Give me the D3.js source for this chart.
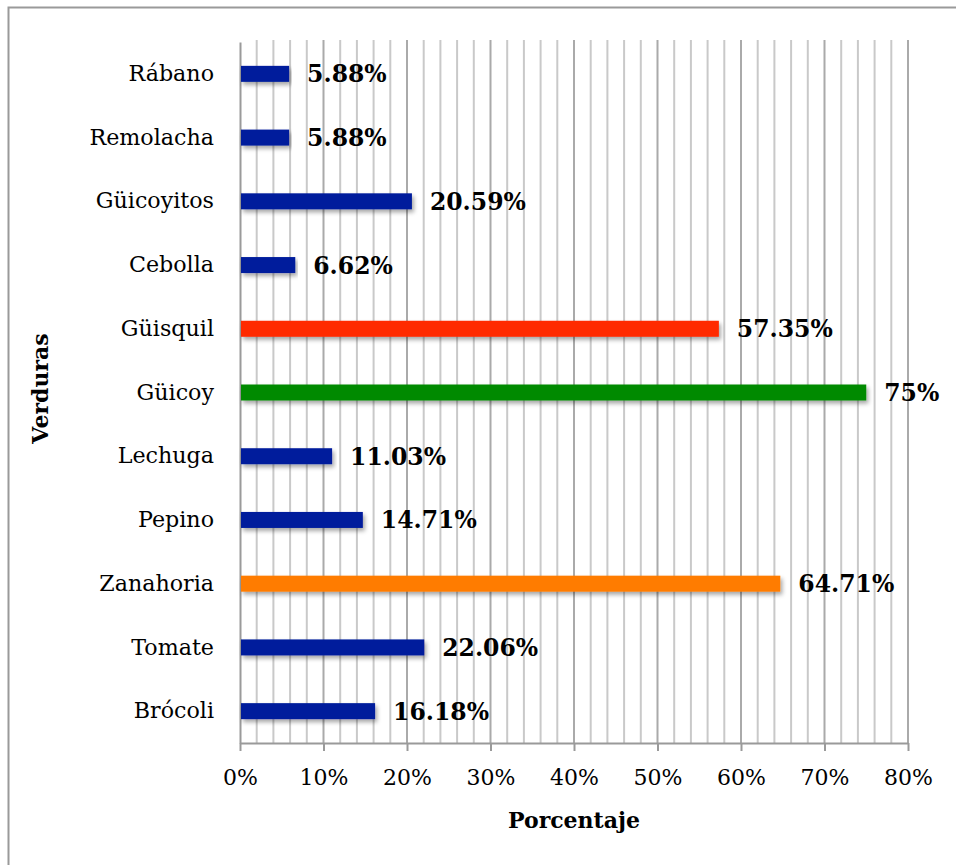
<!DOCTYPE html>
<html>
<head>
<meta charset="utf-8">
<script src="https://cdn.jsdelivr.net/npm/d3@7/dist/d3.min.js"></script>
<style>
  html, body { margin: 0; padding: 0; background: #fff; }
  svg { display: block; }
</style>
</head>
<body>
<script>
// Vegetables (top to bottom) and their percentages
const categories = ["Rábano", "Remolacha", "Güicoyitos", "Cebolla", "Güisquil", "Güicoy",
                    "Lechuga", "Pepino", "Zanahoria", "Tomate", "Brócoli"];
const values = [5.88, 5.88, 20.59, 6.62, 57.35, 75, 11.03, 14.71, 64.71, 22.06, 16.18];
const valueLabels = ["5.88%", "5.88%", "20.59%", "6.62%", "57.35%", "75%", "11.03%",
                     "14.71%", "64.71%", "22.06%", "16.18%"];
const barColors = ["#021c9c", "#021c9c", "#021c9c", "#021c9c", "#ff2a00", "#008a00",
                   "#021c9c", "#021c9c", "#ff7c00", "#021c9c", "#021c9c"];
const xTicks = [0, 10, 20, 30, 40, 50, 60, 70, 80];
const xTitle = "Porcentaje";
const yTitle = "Verduras";

const W = 956, H = 865;
const plotLeft = 240, plotRight = 908, plotTop = 42, plotBottom = 743;
const serif = "'DejaVu Serif', serif";

const svg = d3.select("body").append("svg").attr("width", W).attr("height", H);

const defs = svg.append("defs");
const f = defs.append("filter").attr("id", "shadow")
  .attr("x", "-5%").attr("y", "-50%").attr("width", "110%").attr("height", "250%");
f.append("feDropShadow").attr("dx", 2).attr("dy", 3).attr("stdDeviation", 2)
  .attr("flood-color", "#000").attr("flood-opacity", 0.35);

// Outer frame (left and top edges)
svg.append("rect").attr("x", 8.5).attr("y", 7.5).attr("width", W + 10).attr("height", H + 10)
  .attr("fill", "none").attr("stroke", "#9a9a9a").attr("stroke-width", 2);

const x = d3.scaleLinear().domain([0, 80]).range([plotLeft, plotRight]);
const y = d3.scaleBand().domain(categories).range([plotTop, plotBottom]);

// Vertical gridlines every 2%, darker at each 10%
const grid = d3.range(2, 81, 2);
svg.append("g").selectAll("line").data(grid).join("line")
  .attr("x1", d => x(d)).attr("x2", d => x(d))
  .attr("y1", plotTop - 2).attr("y2", plotBottom)
  .attr("stroke", d => d % 10 === 0 ? "#aaaaaa" : "#c9c9c9")
  .attr("stroke-width", 2);

// Axes
const xAxis = svg.append("g").attr("transform", `translate(0,${plotBottom})`)
  .call(d3.axisBottom(x).tickValues(xTicks).tickFormat(d => d + "%").tickSize(8).tickSizeOuter(0));
xAxis.select(".domain").attr("stroke", "#9a9a9a").attr("stroke-width", 2);
xAxis.selectAll(".tick line").attr("stroke", "#9a9a9a").attr("stroke-width", 2);
xAxis.selectAll(".tick text").attr("font-family", serif).attr("font-size", 22)
  .attr("fill", "#000").attr("dy", "1.42em");

const yAxis = svg.append("g").attr("transform", `translate(${plotLeft},0)`)
  .call(d3.axisLeft(y).tickSize(0).tickPadding(26));
yAxis.select(".domain").attr("stroke", "#9a9a9a").attr("stroke-width", 2);
yAxis.selectAll(".tick text").attr("font-family", serif).attr("font-size", 22.2)
  .attr("fill", "#000");

// Bars
const barH = 16;
svg.append("g").selectAll("rect").data(categories).join("rect")
  .attr("x", x(0) + 1)
  .attr("y", (d) => y(d) + y.bandwidth() / 2 - barH / 2)
  .attr("width", (d, i) => x(values[i]) - x(0) - 1)
  .attr("height", barH)
  .attr("fill", (d, i) => barColors[i])
  .attr("filter", "url(#shadow)");

// Value labels
svg.append("g").selectAll("text").data(categories).join("text")
  .attr("x", (d, i) => x(values[i]) + 18)
  .attr("y", d => y(d) + y.bandwidth() / 2)
  .attr("dy", "0.36em")
  .attr("font-family", serif).attr("font-weight", "bold").attr("font-size", 23.5)
  .attr("fill", "#000")
  .text((d, i) => valueLabels[i]);

// Axis titles
svg.append("text").attr("x", (plotLeft + plotRight) / 2).attr("y", 828)
  .attr("text-anchor", "middle").attr("font-family", serif).attr("font-weight", "bold")
  .attr("font-size", 22).text(xTitle);
svg.append("text").attr("transform", `translate(48,${(plotTop + plotBottom) / 2 - 4}) rotate(-90)`)
  .attr("text-anchor", "middle").attr("font-family", serif).attr("font-weight", "bold")
  .attr("font-size", 22).text(yTitle);
</script>
</body>
</html>
